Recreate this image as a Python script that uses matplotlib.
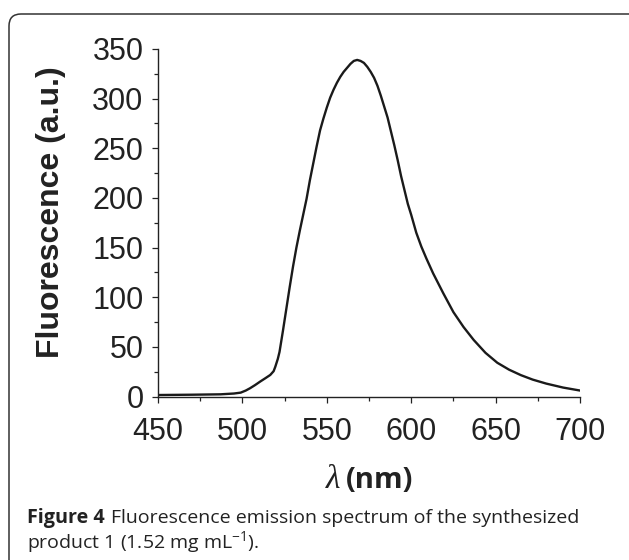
import matplotlib
matplotlib.use("Agg")
import matplotlib.pyplot as plt
from matplotlib.patches import FancyBboxPatch
from matplotlib.transforms import IdentityTransform
from matplotlib.ticker import MultipleLocator

# ---- data ----
wavelength = [450, 470, 487, 495, 499, 502, 504.5, 507.5, 510.5, 513.5, 516.5, 518.5,
              519.5, 521, 522, 524, 526, 528, 530, 532, 534, 536, 538, 540, 542, 544,
              546, 548, 550, 552, 554, 556, 558, 560, 562, 564, 566, 568, 570, 572,
              574, 576, 578, 580, 582, 584, 586, 588, 590, 592, 594, 596, 598, 600,
              603, 606, 609, 613, 619, 625, 631, 637, 644, 651, 658, 665, 672, 680,
              690, 700]
fluorescence = [1.5, 1.8, 2.2, 3.0, 3.9, 6.0, 8.3, 11.5, 15.0, 18.3, 21.7, 25.5,
                30, 38, 45, 66, 88, 110, 131, 150, 167, 183, 199, 218, 235, 252,
                268, 280, 291, 301, 309, 316, 322, 327, 331, 335, 338, 339, 338, 336,
                332, 327, 321, 313, 303, 292, 281, 267, 253, 238, 222, 208, 194, 183,
                165, 151, 139, 124, 104, 85, 70, 57, 44, 34, 27, 21.5, 17, 13,
                9, 6]
x_ticks = [450, 500, 550, 600, 650, 700]
y_ticks = [0, 50, 100, 150, 200, 250, 300, 350]

W, H = 629, 560
fig = plt.figure(figsize=(W / 100, H / 100), dpi=100)
fig.patch.set_facecolor("white")

plt.rcParams["mathtext.fontset"] = "custom"
plt.rcParams["mathtext.rm"] = "Open Sans"
plt.rcParams["mathtext.it"] = "Open Sans:italic"

# rounded frame (open at the bottom, running off the right edge)
frame = FancyBboxPatch((9, -20), 640, 566,
                       boxstyle="round,pad=0,rounding_size=12",
                       transform=IdentityTransform(), fill=False,
                       edgecolor="#333333", linewidth=1.1, zorder=0)
fig.patches.append(frame)

ax = fig.add_axes([158 / W, 1 - 396.5 / H, (580 - 158) / W, (396.5 - 49) / H])
ax.plot(wavelength, fluorescence, color="#1a1a1a", linewidth=1.7)
ax.set_xlim(450, 700)
ax.set_ylim(0, 350)
ax.set_xticks(x_ticks)
ax.set_yticks(y_ticks)
ax.xaxis.set_minor_locator(MultipleLocator(25))
ax.yaxis.set_minor_locator(MultipleLocator(25))
for s in ("top", "right"):
    ax.spines[s].set_visible(False)
for s in ("left", "bottom"):
    ax.spines[s].set_linewidth(1.0)
    ax.spines[s].set_color("#222222")
ax.tick_params(which="major", direction="out", length=4.5, width=0.9,
               color="#222222", labelsize=22, labelcolor="#222222")
ax.tick_params(which="minor", direction="out", length=3, width=0.9, color="#222222")
ax.tick_params(axis="x", which="major", pad=10)
ax.tick_params(axis="y", which="major", pad=6)
for lab in ax.get_xticklabels() + ax.get_yticklabels():
    lab.set_fontfamily("Liberation Sans")

# y label
fig.text(51 / W, 1 - 212 / H, "Fluorescence (a.u.)", rotation=90,
         ha="center", va="center", fontsize=23, fontweight="bold",
         family="Liberation Sans", color="#222222")

# x label: italic lambda + bold (nm)
fig.text(340 / W, 1 - 488 / H, "λ", ha="right", va="baseline",
         fontsize=24, fontstyle="italic", family="Liberation Serif", color="#222222")
fig.text(346 / W, 1 - 488 / H, "(nm)", ha="left", va="baseline",
         fontsize=21, fontweight="bold", family="Open Sans", color="#222222")

# caption
fig.canvas.draw()
renderer = fig.canvas.get_renderer()
t1 = fig.text(27 / W, 1 - 523 / H, "Figure 4", ha="left", va="baseline",
              fontsize=14.2, fontweight="bold", family="Open Sans", color="#222222")
bb = t1.get_window_extent(renderer)
fig.text((bb.x1 + 6) / W, 1 - 523 / H,
         "Fluorescence emission spectrum of the synthesized",
         ha="left", va="baseline", fontsize=14.0, family="Open Sans", color="#222222")
fig.text(27 / W, 1 - 548 / H, r"product 1 (1.52 mg mL$^{\mathrm{-1}}$).",
         ha="left", va="baseline", fontsize=14.0, family="Open Sans", color="#222222")

fig.savefig("out.png", dpi=100, facecolor="white")
